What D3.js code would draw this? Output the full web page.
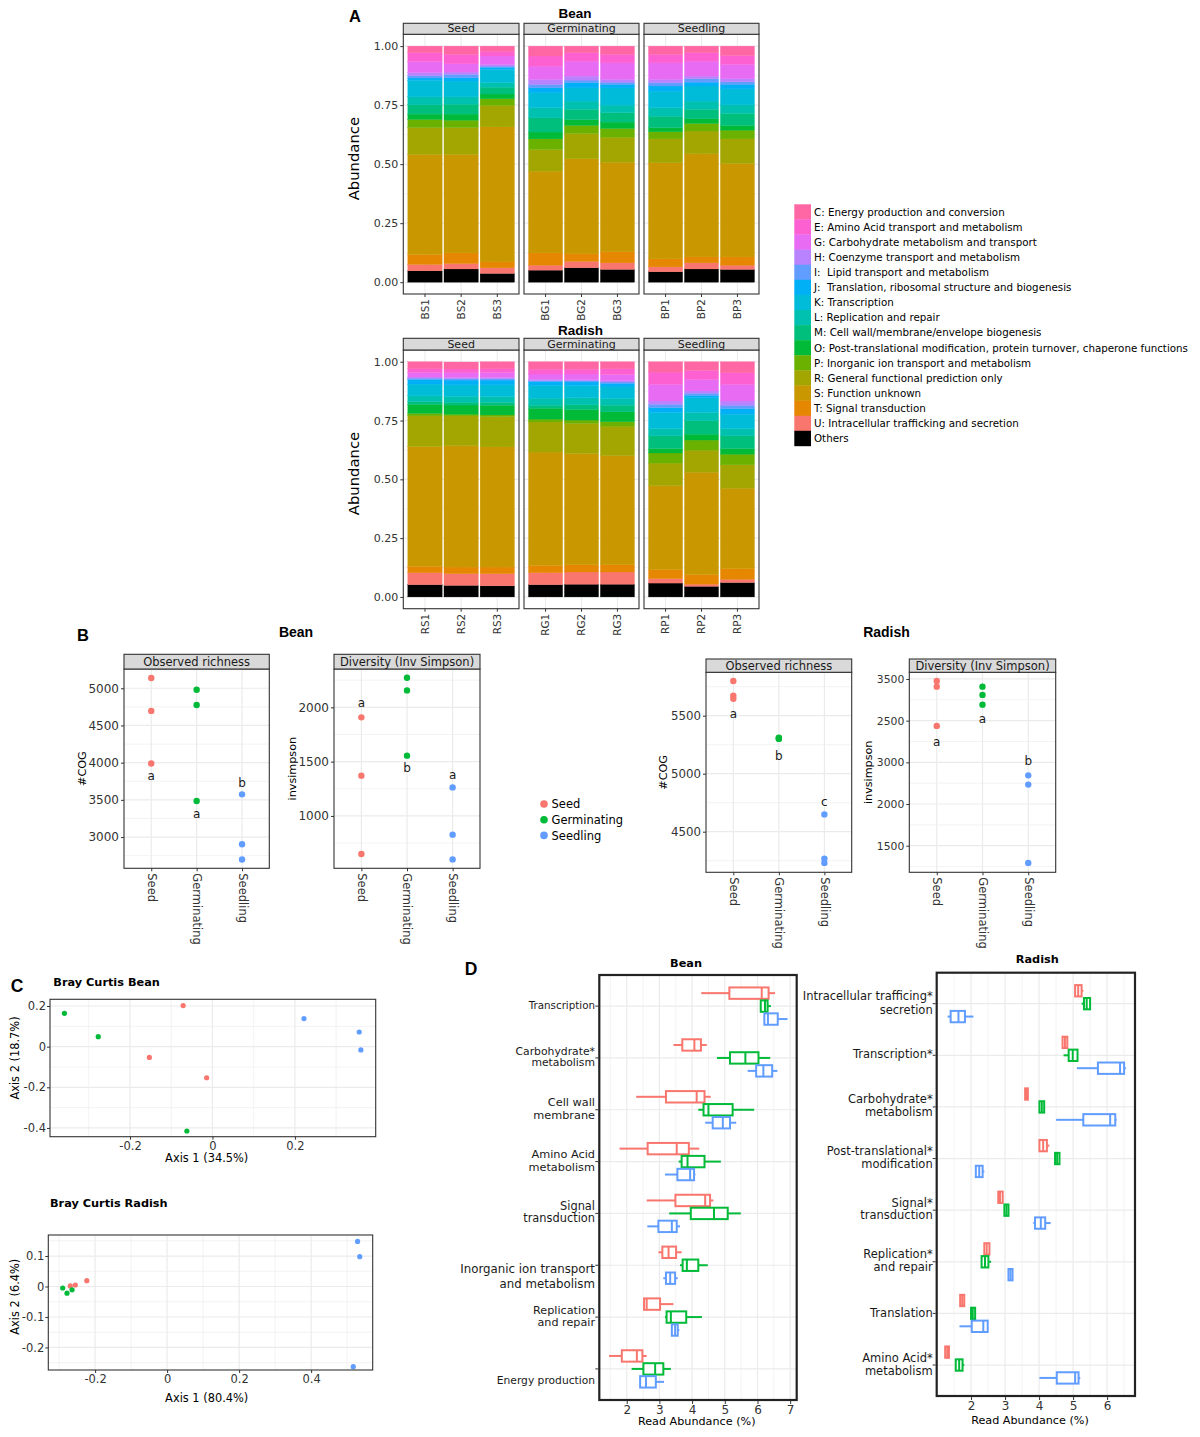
<!DOCTYPE html>
<html>
<head>
<meta charset="utf-8">
<script src="https://cdn.jsdelivr.net/npm/d3@7/dist/d3.min.js"></script>
<style>html,body{margin:0;padding:0;background:#fff;}</style>
</head>
<body>
<svg id="fig" width="1200" height="1437" xmlns="http://www.w3.org/2000/svg"></svg>
<script>
// ================= DATA =================
// Panel A: COG category relative abundance
const cogKeys = ["C","E","G","H","I","J","K","L","M","O","P","R","S","T","U","Others"];
const cogLabels = ["C: Energy production and conversion","E: Amino Acid transport and metabolism","G: Carbohydrate metabolism and transport","H: Coenzyme transport and metabolism","I:  Lipid transport and metabolism","J:  Translation, ribosomal structure and biogenesis","K: Transcription","L: Replication and repair","M: Cell wall/membrane/envelope biogenesis","O: Post-translational modification, protein turnover, chaperone functions","P: Inorganic ion transport and metabolism","R: General functional prediction only","S: Function unknown","T: Signal transduction","U: Intracellular trafficking and secretion","Others"];
const cogColors = ["#FF67A4","#FD61D1","#E76BF3","#B983FF","#619CFF","#00B0F6","#00BCD8","#00C0AF","#00BF7D","#00BA38","#6BB100","#A3A500","#C99800","#E58700","#F8766D","#000000"];
const stages = ["Seed","Germinating","Seedling"];
const stageColors = ["#F8766D","#00BA38","#619CFF"];
const abundanceTicks = [0, 0.25, 0.5, 0.75, 1];

const beanSamples = [["BS1","BS2","BS3"],["BG1","BG2","BG3"],["BP1","BP2","BP3"]];
const radishSamples = [["RS1","RS2","RS3"],["RG1","RG2","RG3"],["RP1","RP2","RP3"]];
// values in cogKeys order
const beanAbundance = {
  BS1:[.028,.037,.047,.013,.010,.010,.070,.034,.039,.023,.034,.114,.424,.042,.027,.048],
  BS2:[.035,.040,.035,.010,.014,.014,.067,.031,.042,.026,.031,.114,.417,.045,.023,.056],
  BS3:[.022,.020,.036,.007,.005,.010,.055,.019,.029,.020,.028,.091,.572,.025,.024,.037],
  BG1:[.042,.043,.056,.021,.015,.021,.063,.043,.060,.029,.045,.092,.346,.052,.021,.051],
  BG2:[.028,.036,.063,.017,.011,.022,.056,.035,.043,.025,.034,.107,.403,.032,.027,.061],
  BG3:[.035,.036,.070,.012,.009,.015,.073,.032,.040,.027,.037,.106,.379,.047,.028,.054],
  BP1:[.035,.036,.070,.014,.014,.022,.070,.036,.048,.018,.030,.101,.407,.034,.021,.044],
  BP2:[.028,.036,.063,.011,.015,.016,.064,.035,.040,.020,.032,.096,.437,.025,.026,.056],
  BP3:[.040,.038,.060,.013,.011,.019,.068,.036,.051,.020,.037,.104,.396,.035,.018,.054]
};
const radishAbundance = {
  RS1:[.030,.015,.020,.005,.005,.020,.050,.025,.011,.039,.010,.130,.510,.027,.051,.052],
  RS2:[.030,.016,.020,.005,.006,.020,.049,.025,.012,.039,.007,.127,.516,.028,.050,.049],
  RS3:[.030,.016,.021,.005,.006,.020,.050,.025,.012,.041,.007,.129,.511,.028,.052,.047],
  RG1:[.032,.020,.023,.005,.005,.015,.055,.030,.013,.046,.012,.128,.482,.031,.051,.052],
  RG2:[.032,.020,.024,.005,.005,.015,.052,.030,.020,.045,.014,.128,.473,.031,.052,.054],
  RG3:[.030,.024,.026,.006,.006,.015,.050,.028,.028,.042,.019,.125,.464,.031,.052,.054],
  RP1:[.044,.052,.071,.014,.014,.021,.068,.031,.054,.019,.043,.096,.356,.039,.019,.059],
  RP2:[.037,.038,.049,.010,.009,.010,.063,.035,.057,.025,.043,.094,.435,.041,.009,.045],
  RP3:[.047,.049,.071,.018,.014,.024,.061,.031,.054,.024,.045,.100,.342,.045,.014,.061]
};

// Panel B: alpha diversity (per stage: Seed, Germinating, Seedling)
const beanRichness   = [[5138,4696,3989],[4981,4776,3485],[3574,2903,2698]];
const beanRichLetters = [["a",3830],["a",3310],["b",3730]];
const beanInvSimpson = [[1908,1371,650],[2272,2156,1555],[1263,828,600]];
const beanInvLetters = [["a",2042],["b",1445],["a",1381]];
const radishRichness   = [[5799,5672,5645],[5305,5300,5310],[4649,4268,4231]];
const radishRichLetters = [["a",5512],["b",5153],["c",4762]];
const radishInvSimpson = [[3476,3408,2937],[3408,3309,3192],[2344,2233,1294]];
const radishInvLetters = [["a",2741],["a",3017],["b",2521]];
const beanRichTicks = [3000,3500,4000,4500,5000];
const beanRichTickLabels = ["3000","3500","4000","4500","5000"];
const beanInvTicks = [1000,1500,2000];
const beanInvTickLabels = ["1000","1500","2000"];
const radishRichTicks = [4500,5000,5500];
const radishRichTickLabels = ["4500","5000","5500"];
const radishInvTicks = [1500,2000,2500,3000,3500];
const radishInvTickLabels = ["1500","2000","3000","2500","3500"];

// Panel C: PCoA (Bray Curtis) coordinates [axis1, axis2] per stage
const beanPCoA = [
  [[-0.071,0.202],[-0.153,-0.053],[-0.014,-0.153]],
  [[-0.359,0.164],[-0.277,0.049],[-0.062,-0.415]],
  [[0.222,0.138],[0.356,0.072],[0.360,-0.016]]
];
const radishPCoA = [
  [[-0.269,0.002],[-0.255,0.005],[-0.223,0.019]],
  [[-0.290,-0.005],[-0.278,-0.022],[-0.264,-0.011]],
  [[0.529,0.148],[0.535,0.098],[0.517,-0.263]]
];
const beanPCoAXTicks = [-0.2,0,0.2], beanPCoAXLabels = ["-0.2","0","0.2"];
const beanPCoAYTicks = [-0.4,-0.2,0,0.2], beanPCoAYLabels = ["-0.4","-0.2","0","0.2"];
const radishPCoAXTicks = [-0.2,0,0.2,0.4], radishPCoAXLabels = ["-0.2","0","0.2","0.4"];
const radishPCoAYTicks = [-0.2,-0.1,0,0.1], radishPCoAYLabels = ["-0.2","-0.1","0","0.1"];

// Panel D: read abundance boxplots [min, q1, median, q3, max]
const beanDCategories = ["Transcription","Carbohydrate metabolism","Cell wall membrane","Amino Acid metabolism","Signal transduction","Inorganic ion transport and metabolism","Replication and repair","Energy production"];
const beanDLabelLines = [["Transcription"],["Carbohydrate*","metabolism"],["Cell wall","membrane"],["Amino Acid","metabolism"],["Signal","transduction"],["Inorganic ion transport","and metabolism"],["Replication","and repair"],["Energy production"]];
const beanDSeed = [[4.28,5.14,6.13,6.34,6.54],[3.43,3.70,4.07,4.27,4.45],[2.29,3.20,4.14,4.38,4.57],[1.78,2.64,3.53,3.90,4.22],[2.61,3.49,4.40,4.55,4.65],[2.97,3.09,3.28,3.51,3.68],[2.51,2.53,2.61,3.02,3.43],[1.46,1.85,2.31,2.48,2.61]];
const beanDGerm = [[6.08,6.10,6.23,6.31,6.41],[4.76,5.16,5.63,6.03,6.39],[4.19,4.35,4.50,5.24,5.90],[3.59,3.68,3.86,4.38,4.88],[3.30,3.96,4.67,5.09,5.49],[3.63,3.71,3.84,4.19,4.48],[3.17,3.22,3.35,3.82,4.30],[2.15,2.51,2.87,3.12,3.35]];
const beanDSeedling = [[6.21,6.21,6.32,6.62,6.92],[5.70,5.96,6.18,6.45,6.61],[4.40,4.63,4.94,5.16,5.35],[3.17,3.55,3.94,4.06,4.10],[2.63,2.97,3.38,3.53,3.63],[3.12,3.20,3.33,3.48,3.56],[3.36,3.38,3.48,3.56,3.61],[2.39,2.41,2.59,2.89,3.14]];
const beanDTicks = [2,3,4,5,6,7];

const radishDCategories = ["Intracellular trafficing secretion","Transcription","Carbohydrate metabolism","Post-translational modification","Signal transduction","Replication and repair","Translation","Amino Acid metabolism"];
const radishDLabelLines = [["Intracellular trafficing*","secretion"],["Transcription*"],["Carbohydrate*","metabolism"],["Post-translational*","modification"],["Signal*","transduction"],["Replication*","and repair"],["Translation"],["Amino Acid*","metabolism"]];
const radishDSeed = [[5.06,5.06,5.15,5.25,5.30],[4.69,4.69,4.76,4.83,4.85],[3.59,3.59,3.63,3.67,3.67],[4.01,4.01,4.12,4.23,4.30],[2.80,2.80,2.85,2.93,2.93],[2.39,2.39,2.46,2.54,2.56],[1.68,1.68,1.74,1.80,1.80],[1.24,1.24,1.30,1.35,1.35]];
const radishDGerm = [[5.25,5.32,5.40,5.50,5.50],[4.72,4.87,4.99,5.13,5.13],[4.01,4.01,4.08,4.15,4.15],[4.47,4.47,4.53,4.60,4.60],[2.98,2.98,3.04,3.10,3.10],[2.31,2.31,2.41,2.51,2.59],[2.00,2.00,2.05,2.12,2.12],[1.55,1.55,1.65,1.75,1.80]];
const radishDSeedling = [[1.31,1.40,1.63,1.82,2.07],[5.11,5.73,6.38,6.50,6.55],[4.50,5.30,6.09,6.24,6.28],[2.14,2.14,2.24,2.34,2.39],[3.83,3.88,4.05,4.18,4.34],[3.10,3.10,3.16,3.22,3.22],[1.66,2.02,2.36,2.49,2.49],[4.01,4.52,5.06,5.16,5.21]];
const radishDTicks = [2,3,4,5,6];

// ================= DRAWING =================
const svg = d3.select("#fig");
svg.append("rect").attr("width",1200).attr("height",1437).attr("fill","#fff");
const DJ = "DejaVu Sans", LIB = "Liberation Sans";
const FRAME = "#333333", GRID = "#EBEBEB", TXT = "#333333";

function T(parent, x, y, s, o = {}) {
  const t = parent.append("text").attr("x", x).attr("y", y).text(s)
    .attr("font-size", o.size || 11).attr("text-anchor", o.anchor || "start")
    .attr("fill", o.fill || "#000").style("font-family", o.family || DJ)
    .style("white-space", "pre");
  if (o.weight) t.attr("font-weight", o.weight);
  if (o.rotate) t.attr("transform", `rotate(${o.rotate},${x},${y})`);
  return t;
}
function hLine(g, y, x0, x1, w, c) {
  g.append("line").attr("x1",x0).attr("x2",x1).attr("y1",y).attr("y2",y).attr("stroke",c||GRID).attr("stroke-width",w);
}
function vLine(g, x, y0, y1, w, c) {
  g.append("line").attr("x1",x).attr("x2",x).attr("y1",y0).attr("y2",y1).attr("stroke",c||GRID).attr("stroke-width",w);
}
function styleAxis(ax, size) {
  ax.select(".domain").remove();
  ax.attr("font-family", DJ).attr("font-size", size);
  ax.selectAll(".tick line").attr("stroke", FRAME).attr("stroke-width", 1);
  ax.selectAll(".tick text").attr("fill", TXT).style("font-family", DJ).attr("font-size", size);
}

// ---------- Panel A ----------
const facetXA = [[403.3,519],[524,639],[644,759]];
function drawAbundance(samplesByStage, abund, L) {
  const y = d3.scaleLinear().domain([-0.05, 1.05]).range([L.bottom, L.stripBottom]);
  samplesByStage.forEach((samples, i) => {
    const [x0, x1] = facetXA[i];
    const g = svg.append("g");
    const x = d3.scaleBand().domain(samples).range([x0, x1]).paddingInner(0.05).paddingOuter(0.125);
    [0.125,0.375,0.625,0.875].forEach(v => hLine(g, y(v), x0, x1, 0.6));
    abundanceTicks.forEach(v => hLine(g, y(v), x0, x1, 1.1));
    samples.forEach(s => vLine(g, x(s) + x.bandwidth()/2, L.stripBottom, L.bottom, 1.1));
    const rows = samples.map(s => {
      const o = { sample: s };
      cogKeys.forEach((k, j) => o[k] = abund[s][j]);
      return o;
    });
    const series = d3.stack().keys([...cogKeys].reverse())(rows);
    g.selectAll("g.layer").data(series).join("g")
      .attr("fill", d => cogColors[cogKeys.indexOf(d.key)])
      .attr("stroke", d => cogColors[cogKeys.indexOf(d.key)])
      .attr("stroke-width", 0.3)
      .selectAll("rect").data(d => d).join("rect")
      .attr("x", d => x(d.data.sample)).attr("width", x.bandwidth())
      .attr("y", d => y(d[1])).attr("height", d => y(d[0]) - y(d[1]));
    g.append("rect").attr("x",x0).attr("y",L.stripBottom).attr("width",x1-x0).attr("height",L.bottom-L.stripBottom)
      .attr("fill","none").attr("stroke",FRAME).attr("stroke-width",1.1);
    g.append("rect").attr("x",x0).attr("y",L.stripTop).attr("width",x1-x0).attr("height",L.stripBottom-L.stripTop)
      .attr("fill","#D9D9D9").attr("stroke",FRAME).attr("stroke-width",1.1);
    T(g, (x0+x1)/2, L.stripBottom - 2.4, stages[i], {size: 11, anchor: "middle", fill: "#1A1A1A"});
    const ax = g.append("g").attr("transform", `translate(0,${L.bottom})`)
      .call(d3.axisBottom(x).tickSize(3).tickSizeOuter(0));
    styleAxis(ax, 10.5);
    ax.selectAll(".tick text").attr("transform","rotate(-90)").attr("text-anchor","end")
      .attr("x", -5).attr("y", 0).attr("dy", "0.35em");
    if (i === 0) {
      const ay = g.append("g").attr("transform", `translate(${x0},0)`)
        .call(d3.axisLeft(y).tickValues(abundanceTicks).tickFormat(d3.format(".2f")).tickSize(3).tickPadding(2));
      styleAxis(ay, 11);
    }
  });
  T(svg, 353.5, (L.stripTop + L.bottom)/2, "Abundance", {size: 14.8, anchor: "middle", rotate: -90}).attr("dy","0.35em");
  T(svg, L.titleX, L.titleY, L.title, {size: 13.5, anchor: "middle", weight: "bold", family: LIB});
}
T(svg, 355, 21.5, "A", {size: 16.5, anchor: "middle", weight: "bold", family: LIB});
drawAbundance(beanSamples, beanAbundance, {stripTop: 23.3, stripBottom: 34.3, bottom: 294, title: "Bean", titleX: 575, titleY: 18.3});
drawAbundance(radishSamples, radishAbundance, {stripTop: 338.3, stripBottom: 350, bottom: 608.7, title: "Radish", titleX: 580.5, titleY: 334.5});

// Legend A
const legA = svg.append("g");
cogKeys.forEach((k, i) => {
  const y0 = 204.3 + i * 15.1;
  legA.append("rect").attr("x",794.3).attr("y",y0).attr("width",16.7).attr("height",15.4).attr("fill",cogColors[i]);
  T(legA, 814, y0 + 11.3, cogLabels[i], {size: 10.3});
});

// ---------- Panel B ----------
function drawDots(c) {
  const g = svg.append("g");
  const x = d3.scalePoint().domain(stages).range([c.x0, c.x1]).padding(0.6);
  const y = d3.scaleLinear().domain(c.domain).range([c.bottom, c.stripBottom]);
  c.minors.forEach(v => hLine(g, y(v), c.x0, c.x1, 0.6));
  c.majors.forEach(v => hLine(g, y(v), c.x0, c.x1, 1.2));
  stages.forEach(s => vLine(g, x(s), c.stripBottom, c.bottom, 1.2));
  c.values.forEach((vals, i) => {
    vals.forEach(v => g.append("circle").attr("cx", x(stages[i])).attr("cy", y(v)).attr("r", 3.2).attr("fill", stageColors[i]));
  });
  c.letters.forEach((L, i) => T(g, x(stages[i]), y(L[1]), L[0], {size: 12, anchor: "middle", fill: "#1A1A1A"}).attr("dy","0.35em"));
  g.append("rect").attr("x",c.x0).attr("y",c.stripBottom).attr("width",c.x1-c.x0).attr("height",c.bottom-c.stripBottom)
    .attr("fill","none").attr("stroke",FRAME).attr("stroke-width",1.1);
  g.append("rect").attr("x",c.x0).attr("y",c.stripTop).attr("width",c.x1-c.x0).attr("height",c.stripBottom-c.stripTop)
    .attr("fill","#D9D9D9").attr("stroke",FRAME).attr("stroke-width",1.1);
  T(g, (c.x0+c.x1)/2, c.stripBottom - 2.6, c.strip, {size: 11.5, anchor: "middle", fill: "#1A1A1A"});
  const ay = g.append("g").attr("transform", `translate(${c.x0},0)`)
    .call(d3.axisLeft(y).tickValues(c.majors).tickFormat((d, i) => c.tickLabels[i]).tickSize(3).tickPadding(2));
  styleAxis(ay, c.tickSize || 12);
  const ax = g.append("g").attr("transform", `translate(0,${c.bottom})`)
    .call(d3.axisBottom(x).tickSize(3).tickSizeOuter(0));
  styleAxis(ax, 11.5);
  ax.selectAll(".tick text").attr("transform","rotate(90)").attr("text-anchor","start")
    .attr("x", 5).attr("y", 0).attr("dy", "0.35em");
  T(g, c.ytitleX, (c.stripBottom + c.bottom)/2, c.ytitle, {size: 11.2, anchor: "middle", rotate: -90}).attr("dy","0.35em");
}
T(svg, 83, 640.5, "B", {size: 16.5, anchor: "middle", weight: "bold", family: LIB});
T(svg, 296, 636.5, "Bean", {size: 14, anchor: "middle", weight: "bold", family: LIB});
T(svg, 886.5, 636.5, "Radish", {size: 14, anchor: "middle", weight: "bold", family: LIB});
drawDots({x0:124, x1:269.3, stripTop:654.3, stripBottom:669, bottom:868.3, domain:[2580,5259],
  majors: beanRichTicks, minors:[2750,3250,3750,4250,4750,5250], tickLabels: beanRichTickLabels,
  values: beanRichness, letters: beanRichLetters, strip:"Observed richness", ytitle:"#COG", ytitleX:81.7});
drawDots({x0:334, x1:480, stripTop:654.3, stripBottom:669, bottom:868.3, domain:[518,2353],
  majors: beanInvTicks, minors:[750,1250,1750,2250], tickLabels: beanInvTickLabels,
  values: beanInvSimpson, letters: beanInvLetters, strip:"Diversity (Inv Simpson)", ytitle:"invsimpson", ytitleX:291.7});
drawDots({x0:706, x1:851.7, stripTop:659, stripBottom:672.3, bottom:872.3, domain:[4150,5874],
  majors: radishRichTicks, minors:[4250,4750,5250,5750], tickLabels: radishRichTickLabels, tickSize: 11.8,
  values: radishRichness, letters: radishRichLetters, strip:"Observed richness", ytitle:"#COG", ytitleX:663});
drawDots({x0:909.3, x1:1055.7, stripTop:659, stripBottom:672.3, bottom:872.3, domain:[1181,3580],
  majors: radishInvTicks, minors:[1250,1750,2250,2750,3250], tickLabels: radishInvTickLabels, tickSize: 10.8,
  values: radishInvSimpson, letters: radishInvLetters, strip:"Diversity (Inv Simpson)", ytitle:"invsimpson", ytitleX:868.5});
// Legend B
stages.forEach((s, i) => {
  svg.append("circle").attr("cx", 544).attr("cy", 804 + i*15.7).attr("r", 3.8).attr("fill", stageColors[i]);
  T(svg, 551.5, 804 + i*15.7 + 4.2, s, {size: 11.5});
});

// ---------- Panel C ----------
function drawPCoA(c) {
  const g = svg.append("g");
  const x = d3.scaleLinear().domain(c.xd).range([c.x0, c.x1]);
  const y = d3.scaleLinear().domain(c.yd).range([c.y1, c.y0]);
  c.xMinor.forEach(v => vLine(g, x(v), c.y0, c.y1, 0.6));
  c.yMinor.forEach(v => hLine(g, y(v), c.x0, c.x1, 0.6));
  c.xTicks.forEach(v => vLine(g, x(v), c.y0, c.y1, 1.2));
  c.yTicks.forEach(v => hLine(g, y(v), c.x0, c.x1, 1.2));
  c.pts.forEach((arr, i) => arr.forEach(p =>
    g.append("circle").attr("cx", x(p[0])).attr("cy", y(p[1])).attr("r", 2.6).attr("fill", stageColors[i])));
  g.append("rect").attr("x",c.x0).attr("y",c.y0).attr("width",c.x1-c.x0).attr("height",c.y1-c.y0)
    .attr("fill","none").attr("stroke",FRAME).attr("stroke-width",1.1);
  const ax = g.append("g").attr("transform", `translate(0,${c.y1})`)
    .call(d3.axisBottom(x).tickValues(c.xTicks).tickFormat((d,i)=>c.xLabels[i]).tickSize(3).tickPadding(2));
  styleAxis(ax, 11.5);
  const ay = g.append("g").attr("transform", `translate(${c.x0},0)`)
    .call(d3.axisLeft(y).tickValues(c.yTicks).tickFormat((d,i)=>c.yLabels[i]).tickSize(3).tickPadding(1));
  styleAxis(ay, 11.5);
  T(g, c.title[1], c.title[2], c.title[0], {size: 11.3, weight: "bold"});
  T(g, c.xt[1], c.xt[2], c.xt[0], {size: 11.4, anchor: "middle"});
  T(g, 15, c.ytY, c.yt, {size: 11.4, anchor: "middle", rotate: -90}).attr("dy","0.35em");
}
T(svg, 17, 991.5, "C", {size: 17.5, anchor: "middle", weight: "bold", family: LIB});
drawPCoA({x0:50, x1:375.7, y0:999.3, y1:1136.7, xd:[-0.394,0.396], yd:[-0.443,0.233],
  xTicks: beanPCoAXTicks, xLabels: beanPCoAXLabels, yTicks: beanPCoAYTicks, yLabels: beanPCoAYLabels,
  xMinor:[-0.3,-0.1,0.1,0.3], yMinor:[-0.3,-0.1,0.1], pts: beanPCoA,
  title:["Bray Curtis Bean",53.3,986], xt:["Axis 1 (34.5%)",206.7,1161.7], yt:"Axis 2 (18.7%)", ytY:1058});
drawPCoA({x0:48.3, x1:372.7, y0:1235, y1:1370, xd:[-0.330,0.571], yd:[-0.274,0.169],
  xTicks: radishPCoAXTicks, xLabels: radishPCoAXLabels, yTicks: radishPCoAYTicks, yLabels: radishPCoAYLabels,
  xMinor:[-0.3,-0.1,0.1,0.3,0.5], yMinor:[-0.25,-0.15,-0.05,0.05,0.15], pts: radishPCoA,
  title:["Bray Curtis Radish",50,1206.5], xt:["Axis 1 (80.4%)",206.7,1401.5], yt:"Axis 2 (6.4%)", ytY:1296.7});

// ---------- Panel D ----------
function drawBoxes(c) {
  const g = svg.append("g");
  const x = d3.scaleLinear().domain(c.xd).range([c.x0, c.x1]);
  const y = d3.scalePoint().domain(c.cats).range([c.y0, c.y1]).padding(0.6);
  const step = y.step();
  c.minors.forEach(v => vLine(g, x(v), c.y0, c.y1, 0.6));
  c.ticks.forEach(v => vLine(g, x(v), c.y0, c.y1, 1.2));
  c.cats.forEach(k => hLine(g, y(k), c.x0, c.x1, 1.2));
  const groups = [c.seed, c.germ, c.seedling];
  const offs = [-0.25, 0, 0.25];
  const bh = 0.22 * step;
  groups.forEach((grp, gi) => {
    grp.forEach((s, ci) => {
      const cy = y(c.cats[ci]) + offs[gi] * step;
      const col = stageColors[gi];
      const bg = g.append("g").attr("stroke", col).attr("stroke-width", 2).attr("fill", "#fff");
      bg.append("line").attr("x1", x(s[0])).attr("x2", x(s[1])).attr("y1", cy).attr("y2", cy);
      bg.append("line").attr("x1", x(s[3])).attr("x2", x(s[4])).attr("y1", cy).attr("y2", cy);
      bg.append("rect").attr("x", x(s[1])).attr("y", cy - bh/2).attr("width", Math.max(0.1, x(s[3]) - x(s[1]))).attr("height", bh);
      bg.append("line").attr("x1", x(s[2])).attr("x2", x(s[2])).attr("y1", cy - bh/2).attr("y2", cy + bh/2);
    });
  });
  g.append("rect").attr("x",c.x0).attr("y",c.y0).attr("width",c.x1-c.x0).attr("height",c.y1-c.y0)
    .attr("fill","none").attr("stroke","#222").attr("stroke-width",2.2);
  const ax = g.append("g").attr("transform", `translate(0,${c.y1 + 1})`)
    .call(d3.axisBottom(x).tickValues(c.ticks).tickFormat(d3.format("d")).tickSize(3).tickPadding(1));
  styleAxis(ax, 12);
  c.cats.forEach((k, ci) => {
    const yy = y(k);
    g.append("line").attr("x1", c.x0 - 4).attr("x2", c.x0 - 1).attr("y1", yy).attr("y2", yy).attr("stroke", FRAME);
    const lines = c.lines[ci];
    const gap = c.gaps[ci];
    const fs = c.sizes[ci];
    const start = yy + c.shift[ci] - (lines.length - 1) * gap / 2;
    lines.forEach((ln, li) => T(g, c.labelX, start + li * gap + fs * 0.36, ln, {size: fs, anchor: "end", fill: "#1A1A1A"}));
  });
  T(g, c.title[1], c.title[2], c.title[0], {size: 11.3, weight: "bold", anchor: "middle"});
  T(g, c.xt[1], c.xt[2], "Read Abundance (%)", {size: 11.2, anchor: "middle"});
}
T(svg, 471, 975, "D", {size: 17.5, anchor: "middle", weight: "bold", family: LIB});
drawBoxes({x0:599.3, x1:796.7, y0:975, y1:1400, xd:[1.161,7.2], ticks: beanDTicks, minors:[1.5,2.5,3.5,4.5,5.5,6.5],
  cats: beanDCategories, lines: beanDLabelLines, seed: beanDSeed, germ: beanDGerm, seedling: beanDSeedling,
  labelX: 595, sizes:[10.3,10.8,11.3,11.3,11.4,11.8,11.2,10.7], gaps:[12.7,11,12.7,12.7,11.6,15,12.7,12.7], shift:[-1,-1.5,-1.5,-1.5,-1.5,10.7,-1,11.7],
  title:["Bean",686,966.5], xt:["",696.7,1425]});
drawBoxes({x0:936.7, x1:1135, y0:972.7, y1:1396, xd:[0.99,6.82], ticks: radishDTicks, minors:[1.5,2.5,3.5,4.5,5.5,6.5],
  cats: radishDCategories, lines: radishDLabelLines, seed: radishDSeed, germ: radishDGerm, seedling: radishDSeedling,
  labelX: 932.7, sizes:[11.5,11.5,11.5,11.5,11.5,11.5,11.5,11.5], gaps:[14,13,12.7,12.7,11.7,12.7,13,13.3], shift:[-0.5,-1,-1.5,-1.5,-1.5,-1.5,-1,-1],
  title:["Radish",1037.3,962.5], xt:["",1030,1424]});
</script>
</body>
</html>
